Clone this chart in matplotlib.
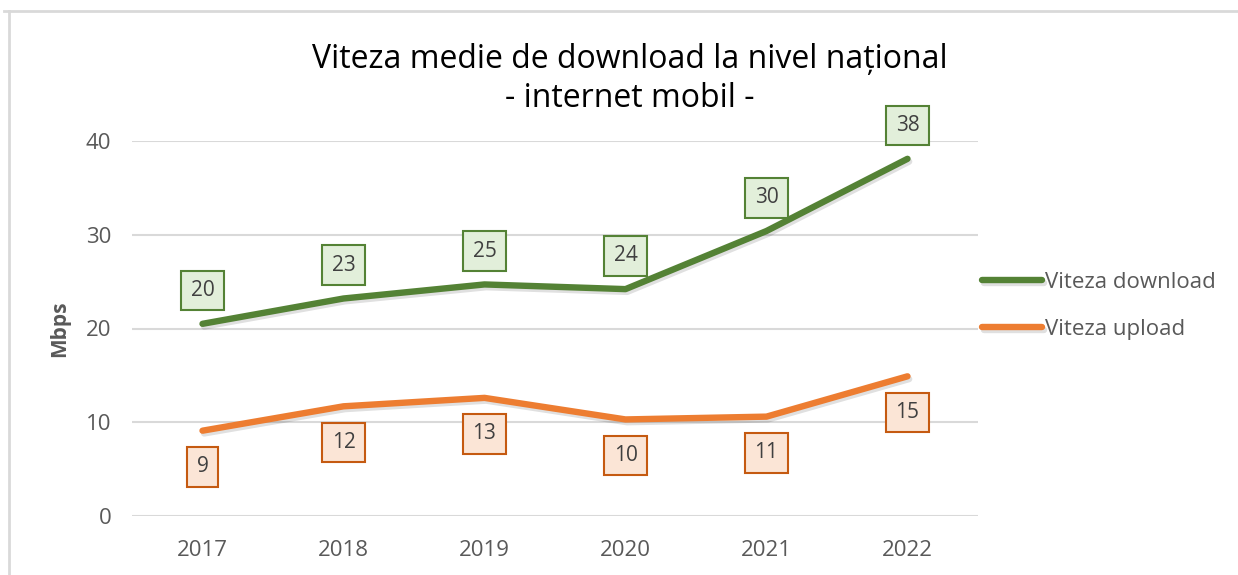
import matplotlib
matplotlib.use("Agg")
import matplotlib.pyplot as plt
import matplotlib.patheffects as pe
from matplotlib.lines import Line2D

# data
years = ["2017", "2018", "2019", "2020", "2021", "2022"]
download = [20.5, 23.2, 24.7, 24.2, 30.4, 38.1]
upload = [9.1, 11.7, 12.6, 10.3, 10.6, 14.9]
download_labels = ["20", "23", "25", "24", "30", "38"]
upload_labels = ["9", "12", "13", "10", "11", "15"]

title = "Viteza medie de download la nivel național\n- internet mobil -"
ylabel = "Mbps"
series_names = ["Viteza download", "Viteza upload"]

GREEN, ORANGE = "#548235", "#ED7D31"
GRAY_TXT = "#595959"

plt.rcParams["font.family"] = ["Open Sans", "DejaVu Sans"]

fig = plt.figure(figsize=(12.38, 5.75), dpi=100)
ax = fig.add_axes([132 / 1238, 1 - 516 / 575, 846 / 1238, 375 / 575])

x = list(range(len(years)))
shadow = [pe.SimpleLineShadow(offset=(1.2, -2.0), alpha=0.12, shadow_color="#000000"),
          pe.Normal()]
ax.plot(x, download, color=GREEN, lw=4.6, solid_capstyle="round",
        solid_joinstyle="round", path_effects=shadow, label=series_names[0], zorder=3)
ax.plot(x, upload, color=ORANGE, lw=4.6, solid_capstyle="round",
        solid_joinstyle="round", path_effects=shadow, label=series_names[1], zorder=3)

# data labels in boxes
for xi, v, s in zip(x, download, download_labels):
    ax.annotate(s, (xi, v), xytext=(0, 24), textcoords="offset points",
                ha="center", va="center", fontsize=15, color="#404040",
                annotation_clip=False, zorder=4,
                bbox=dict(boxstyle="square,pad=0.45", fc="#E2EFDA", ec=GREEN, lw=1.5))
for xi, v, s in zip(x, upload, upload_labels):
    ax.annotate(s, (xi, v), xytext=(0, -26), textcoords="offset points",
                ha="center", va="center", fontsize=15, color="#404040",
                annotation_clip=False, zorder=4,
                bbox=dict(boxstyle="square,pad=0.45", fc="#FBE5D6", ec="#C55A11", lw=1.5))

ax.set_xlim(-0.5, len(years) - 0.5)
ax.set_ylim(0, 40)
ax.set_yticks([0, 10, 20, 30, 40])
ax.set_xticks(x)
ax.set_xticklabels(years)
ax.tick_params(length=0, labelsize=16, labelcolor=GRAY_TXT)
ax.tick_params(axis="x", pad=17)
ax.tick_params(axis="y", pad=15)
ax.grid(axis="y", color="#D9D9D9", lw=1.5)
ax.set_axisbelow(True)
for sp in ax.spines.values():
    sp.set_visible(False)

ax.set_ylabel(ylabel, fontsize=15, color=GRAY_TXT, fontweight="bold", labelpad=11)

fig.text(630 / 1238, 1 - 79 / 575, title, ha="center", va="center",
         fontsize=23, color="#000000", linespacing=1.25)

leg = ax.legend(loc="upper left", bbox_to_anchor=(982 / 1238, 1 - 272 / 575),
                bbox_transform=fig.transFigure, frameon=False, fontsize=16,
                handlelength=2.7, handletextpad=0.15, labelspacing=1.15,
                borderaxespad=0, borderpad=0)
for t in leg.get_texts():
    t.set_color(GRAY_TXT)

# light outer frame
fig.add_artist(Line2D([4 / 1238, 1], [1 - 11 / 575] * 2, transform=fig.transFigure,
                      color="#D9D9D9", lw=2))
fig.add_artist(Line2D([9 / 1238] * 2, [0, 1 - 11 / 575], transform=fig.transFigure,
                      color="#D9D9D9", lw=2))

fig.savefig("out.png", dpi=100)
